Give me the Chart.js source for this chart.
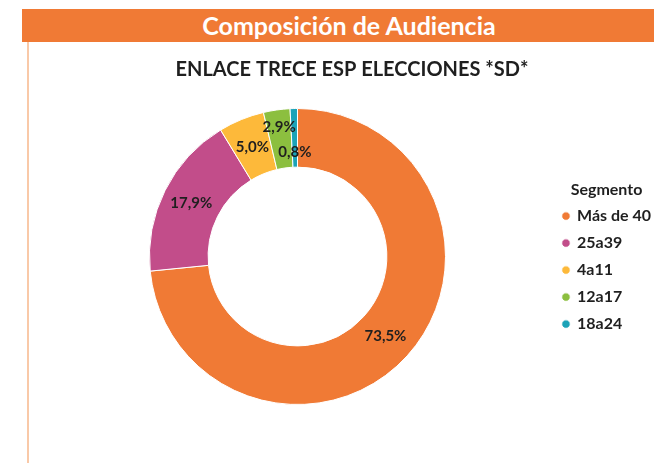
<!DOCTYPE html>
<html>
<head>
<meta charset="utf-8">
<script src="https://cdn.jsdelivr.net/npm/chart.js@4"></script>
<style>
    html, body { margin: 0; padding: 0; width: 654px; height: 463px; overflow: hidden; background: #fff; position: relative; }
    .header {
        position: absolute; left: 22px; top: 9px; width: 654px; height: 33px;
        background: #F07A35; color: #fff;
        font: bold 25px Lato, sans-serif; line-height: 33px;
        text-align: center;
    }
    .frame { position: absolute; left: 27px; top: 42px; width: 2px; height: 421px; background: #F9C9A8; }
    .wrap { position: absolute; left: 29px; top: 42px; }
</style>
</head>
<body>
<div class="header">Composición de Audiencia</div>
<div class="frame"></div>
<div class="wrap"><canvas id="audienceChart" width="632" height="421"></canvas></div>
<script>
// Chart data
const segments = ['Más de 40', '25a39', '4a11', '12a17', '18a24'];
const shares = [73.5, 17.9, 5.0, 2.9, 0.8];
const segmentColors = ['#F07A35', '#C24D8A', '#FDB93A', '#8CBF3F', '#1CA3B8'];
const chartTitle = 'ENLACE TRECE ESP ELECCIONES *SD*';

// Draw the percentage text on each slice
const sliceLabels = {
    id: 'sliceLabels',
    afterDatasetsDraw(chart, args, opts) {
        const ctx = chart.ctx;
        const meta = chart.getDatasetMeta(0);
        ctx.save();
        ctx.font = 'bold 15px Lato, sans-serif';
        ctx.fillStyle = '#1f1f1f';
        ctx.textAlign = 'center';
        ctx.textBaseline = 'middle';
        meta.data.forEach((arc, i) => {
            const p = arc.getProps(['x', 'y', 'startAngle', 'endAngle', 'innerRadius', 'outerRadius'], true);
            const mid = (p.startAngle + p.endAngle) / 2;
            const r = (p.innerRadius + p.outerRadius) / 2 + (opts.shift[i] || 0);
            const text = shares[i].toFixed(1).replace('.', ',') + '%';
            ctx.fillText(text, p.x + Math.cos(mid) * r, p.y + Math.sin(mid) * r);
        });
        ctx.restore();
    }
};

const chart = new Chart(document.getElementById('audienceChart').getContext('2d'), {
    type: 'doughnut',
    data: {
        labels: segments,
        datasets: [{
            data: shares,
            backgroundColor: segmentColors,
            borderColor: '#fff',
            borderWidth: 1
        }]
    },
    options: {
        responsive: false,
        devicePixelRatio: 1,
        animation: false,
        radius: 148,
        cutout: 93,
        layout: { padding: { left: 14, bottom: 52 } },
        plugins: {
            title: {
                display: true,
                text: chartTitle,
                color: '#1f1f1f',
                font: { family: 'Lato, sans-serif', size: 20, weight: 'bold' },
                padding: { top: 16, bottom: 20 }
            },
            legend: {
                position: 'right',
                title: {
                    display: true,
                    text: 'Segmento',
                    position: 'center',
                    color: '#1f1f1f',
                    font: { family: 'Lato, sans-serif', size: 16, weight: 'bold' },
                    padding: { top: 72, bottom: -4 }
                },
                labels: {
                    usePointStyle: true,
                    pointStyle: 'circle',
                    boxWidth: 6,
                    boxHeight: 6,
                    color: '#1f1f1f',
                    padding: 11,
                    font: { family: 'Lato, sans-serif', size: 16, weight: 'bold' }
                }
            },
            tooltip: { enabled: false },
            sliceLabels: { shift: [0, 0, 0, 12, -14] }
        }
    },
    plugins: [sliceLabels]
});
</script>
</body>
</html>
